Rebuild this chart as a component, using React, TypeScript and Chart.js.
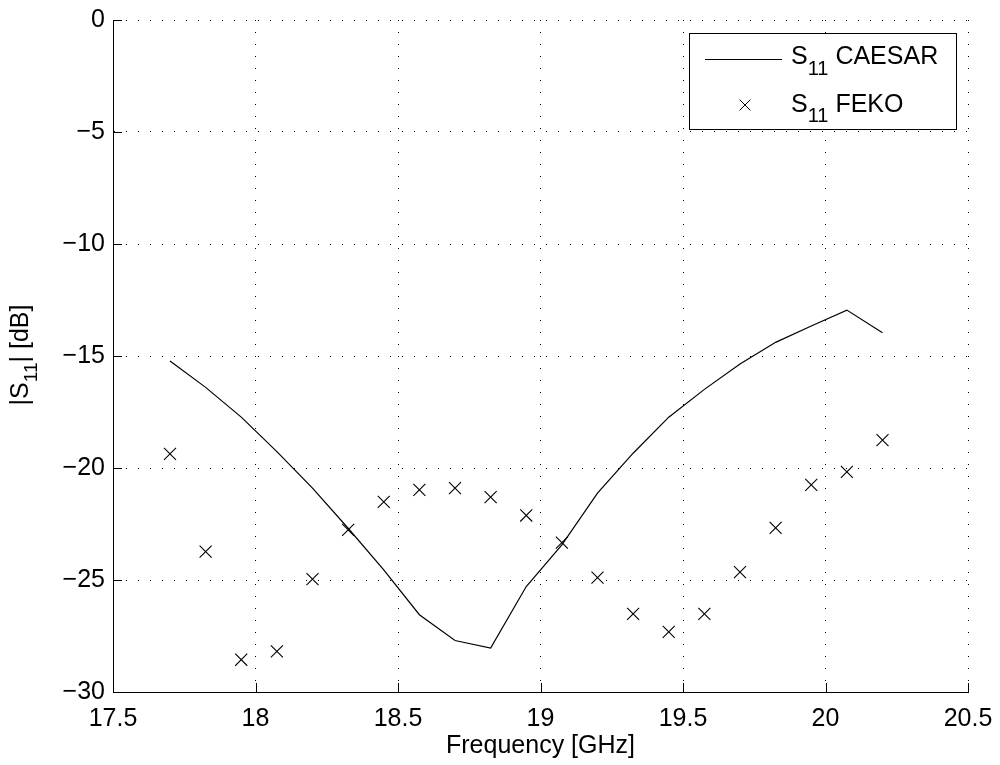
import React, { useEffect, useRef } from "react";
import { Chart, registerables } from "chart.js";

Chart.register(...registerables);

const freqCaesar = [17.7, 17.825, 17.95, 18.075, 18.2, 18.325, 18.45, 18.575, 18.7, 18.825, 18.95, 19.075, 19.2, 19.325, 19.45, 19.575, 19.7, 19.825, 19.95, 20.075, 20.2];
const s11Caesar = [-15.22, -16.4, -17.73, -19.27, -20.9, -22.69, -24.55, -26.55, -27.7, -28.04, -25.29, -23.43, -21.12, -19.34, -17.73, -16.49, -15.36, -14.39, -13.66, -12.95, -13.96];
const freqFeko = [17.7, 17.825, 17.95, 18.075, 18.2, 18.325, 18.45, 18.575, 18.7, 18.825, 18.95, 19.075, 19.2, 19.325, 19.45, 19.575, 19.7, 19.825, 19.95, 20.075, 20.2];
const s11Feko = [-19.37, -23.73, -28.56, -28.19, -24.96, -22.76, -21.51, -20.98, -20.9, -21.3, -22.12, -23.33, -24.89, -26.51, -27.32, -26.51, -24.65, -22.67, -20.75, -20.17, -18.76];
const xTicks = [17.5, 18, 18.5, 19, 19.5, 20, 20.5];
const yTicks = [0, -5, -10, -15, -20, -25, -30];

const seriesNames = ["CAESAR", "FEKO"];
const xTitle = "Frequency [GHz]";
const FONT = '"Liberation Sans", Arial, Helvetica, sans-serif';

function fmt(v: number): string {
  return v < 0 ? "\u2212" + String(Math.abs(v)) : String(v);
}

function drawSub(ctx: CanvasRenderingContext2D, x: number, y: number, pre: string, sub: string, post: string, size: number, subSize: number, subDrop: number) {
  ctx.font = `${size}px ${FONT}`;
  ctx.fillText(pre, x, y);
  let cx = x + ctx.measureText(pre).width;
  ctx.font = `${subSize}px ${FONT}`;
  ctx.fillText(sub, cx, y + subDrop);
  cx += ctx.measureText(sub).width;
  ctx.font = `${size}px ${FONT}`;
  ctx.fillText(post, cx, y);
}

function subWidth(ctx: CanvasRenderingContext2D, pre: string, sub: string, post: string, size: number, subSize: number) {
  ctx.font = `${size}px ${FONT}`;
  let w = ctx.measureText(pre).width + ctx.measureText(post).width;
  ctx.font = `${subSize}px ${FONT}`;
  w += ctx.measureText(sub).width;
  return w;
}

function zeroPad(s: any) {
  s.paddingTop = 0;
  s.paddingBottom = 0;
  s.paddingLeft = 0;
  s.paddingRight = 0;
}

const decorPlugin = {
  id: "decor",
  afterDraw(chart: any) {
    const ctx: CanvasRenderingContext2D = chart.ctx;
    const xs = chart.scales.x;
    const ys = chart.scales.y;
    const area = chart.chartArea;
    ctx.save();
    ctx.strokeStyle = "#000";
    ctx.fillStyle = "#000";
    ctx.lineWidth = 1;
    // inward tick marks
    ctx.beginPath();
    for (const v of xTicks) {
      const px = Math.round(xs.getPixelForValue(v)) + 0.5;
      ctx.moveTo(px, area.bottom);
      ctx.lineTo(px, area.bottom - 9);
    }
    for (const v of yTicks) {
      const py = Math.round(ys.getPixelForValue(v)) + 0.5;
      ctx.moveTo(area.left, py);
      ctx.lineTo(area.left + 9, py);
    }
    ctx.stroke();

    // x title
    ctx.textAlign = "center";
    ctx.textBaseline = "alphabetic";
    ctx.font = `25px ${FONT}`;
    ctx.fillText(xTitle, (area.left + area.right) / 2, 753);

    // y title rotated
    ctx.save();
    ctx.translate(28, 355);
    ctx.rotate(-Math.PI / 2);
    ctx.textAlign = "left";
    const tw = subWidth(ctx, "|S", "11", "| [dB]", 25, 19);
    drawSub(ctx, -tw / 2, 0, "|S", "11", "| [dB]", 25, 19, 9);
    ctx.restore();

    // legend
    const lx = 689.5, ly = 33.5, lw = 267, lh = 96;
    ctx.fillStyle = "#fff";
    ctx.fillRect(lx, ly, lw, lh);
    ctx.strokeRect(lx, ly, lw, lh);
    ctx.fillStyle = "#000";
    ctx.beginPath();
    ctx.moveTo(705, 59.5);
    ctx.lineTo(782, 59.5);
    ctx.stroke();
    ctx.beginPath();
    const cx = 745, cy = 105, r = 5.5;
    ctx.moveTo(cx - r, cy - r);
    ctx.lineTo(cx + r, cy + r);
    ctx.moveTo(cx - r, cy + r);
    ctx.lineTo(cx + r, cy - r);
    ctx.stroke();
    ctx.textAlign = "left";
    drawSub(ctx, 791, 64, "S", "11", " " + seriesNames[0], 25, 20, 11);
    drawSub(ctx, 791, 111.5, "S", "11", " " + seriesNames[1], 25, 20, 10);
    ctx.restore();
  },
};

export default function App() {
  const ref = useRef<HTMLCanvasElement | null>(null);
  useEffect(() => {
    if (!ref.current) return;
    const chart = new Chart(ref.current, {
      type: "scatter",
      data: {
        datasets: [
          {
            label: "S11 " + seriesNames[0],
            data: freqCaesar.map((x, i) => ({ x, y: s11Caesar[i] })),
            showLine: true,
            borderColor: "#000",
            borderWidth: 1.2,
            pointRadius: 0,
            fill: false,
          },
          {
            label: "S11 " + seriesNames[1],
            data: freqFeko.map((x, i) => ({ x, y: s11Feko[i] })),
            showLine: false,
            pointStyle: "crossRot",
            pointRadius: 8.5,
            borderColor: "#000",
            backgroundColor: "#000",
            pointBorderWidth: 1.1,
          },
        ],
      },
      options: {
        responsive: false,
        animation: false,
        devicePixelRatio: 1,
        layout: { padding: { left: 0, right: 32, top: 20, bottom: 0 } },
        plugins: { legend: { display: false }, tooltip: { enabled: false } },
        scales: {
          x: {
            type: "linear",
            min: 17.5,
            max: 20.5,
            afterBuildTicks: (s: any) => {
              s.ticks = xTicks.map((value) => ({ value }));
            },
            afterFit: (s: any) => {
              s.height = 73;
              zeroPad(s);
            },
            grid: { color: "#000", lineWidth: 1, drawTicks: false },
            border: { display: true, color: "#000", width: 1, dash: [1, 11] },
            ticks: {
              color: "#000",
              font: { family: FONT, size: 25 },
              padding: 12,
              maxRotation: 0,
              autoSkip: false,
              callback: (v: any) => fmt(Number(v)),
            },
          },
          y: {
            type: "linear",
            min: -30,
            max: 0,
            afterBuildTicks: (s: any) => {
              s.ticks = yTicks.map((value) => ({ value }));
            },
            afterFit: (s: any) => {
              s.width = 113;
              zeroPad(s);
            },
            grid: { color: "#000", lineWidth: 1, drawTicks: false },
            border: { display: true, color: "#000", width: 1, dash: [1, 11] },
            ticks: {
              color: "#000",
              font: { family: FONT, size: 25 },
              padding: 8,
              autoSkip: false,
              callback: (v: any) => fmt(Number(v)),
            },
          },
        },
      } as any,
      plugins: [decorPlugin],
    });
    return () => chart.destroy();
  }, []);
  return (
    <div style={{ position: "absolute", left: 0, top: 0, width: 1000, height: 765, background: "#fff" }}>
      <canvas ref={ref} width={1000} height={765} style={{ display: "block" }} />
    </div>
  );
}
